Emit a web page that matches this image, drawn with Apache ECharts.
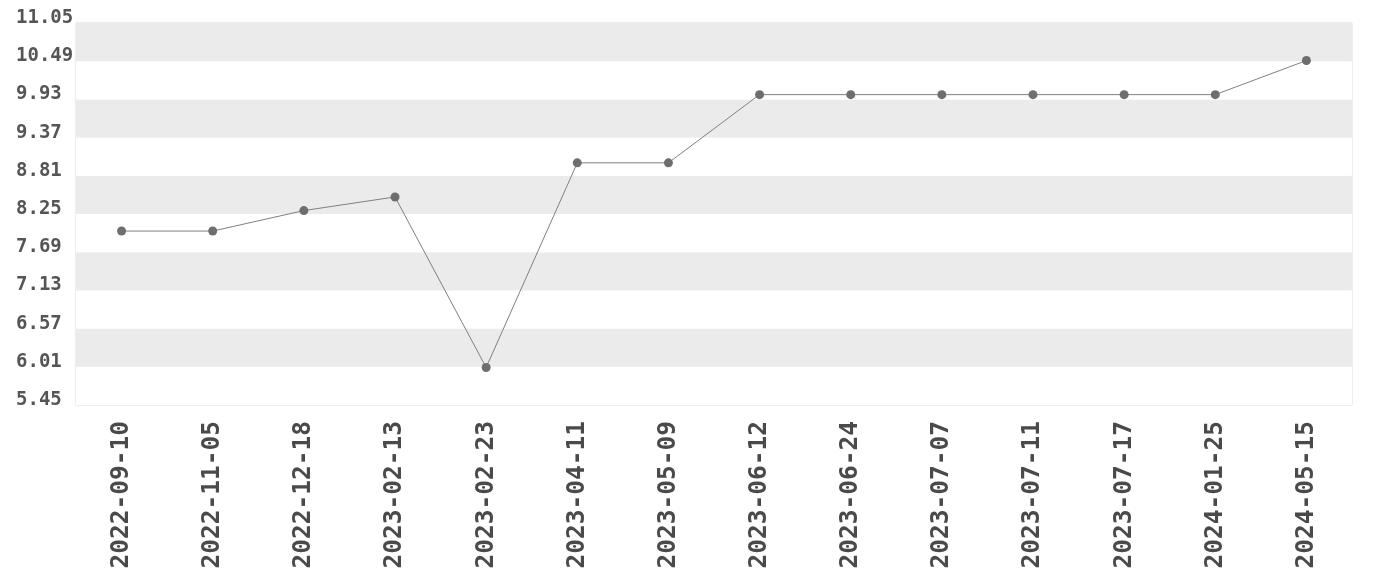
<!DOCTYPE html>
<html>
<head>
<meta charset="utf-8">
<script src="https://cdn.jsdelivr.net/npm/echarts@6/dist/echarts.min.js"></script>
<style>html,body{margin:0;padding:0;background:#fff}#c{width:1380px;height:580px}</style>
</head>
<body>
<div id="c"></div>
<script>
const categories = ['2022-09-10','2022-11-05','2022-12-18','2023-02-13','2023-02-23','2023-04-11','2023-05-09','2023-06-12','2023-06-24','2023-07-07','2023-07-11','2023-07-17','2024-01-25','2024-05-15'];
const values = [8.0, 8.0, 8.3, 8.5, 6.0, 9.0, 9.0, 10.0, 10.0, 10.0, 10.0, 10.0, 10.0, 10.5];
const yMin = 5.45, yMax = 11.05, yStep = 0.56;
const font = '"DejaVu Sans Mono", monospace';
const chart = echarts.init(document.getElementById('c'), null, {renderer: 'canvas'});
chart.setOption({
  animation: false,
  grid: {left: 76, right: 28, top: 23, bottom: 175, show: true, borderColor: '#ddd', borderWidth: 1, containLabel: false},
  xAxis: {
    type: 'category', data: categories, boundaryGap: true,
    axisLine: {show: false}, axisTick: {show: false},
    axisLabel: {rotate: 90, interval: 0, fontFamily: font, fontWeight: 'bold', fontSize: 24.5, color: '#4a4a4a', margin: 16}
  },
  yAxis: {
    type: 'value', min: yMin, max: yMax, interval: yStep,
    axisLine: {show: false}, axisTick: {show: false}, splitLine: {show: false},
    splitArea: {show: true, areaStyle: {color: ['#ffffff', '#ebebeb']}},
    axisLabel: {fontFamily: font, fontWeight: 'bold', fontSize: 19, color: '#555', align: 'left', margin: 60,
      verticalAlign: 'bottom', lineHeight: 10,
      formatter: v => v.toFixed(2)}
  },
  series: [{
    type: 'line', data: values, symbol: 'circle', symbolSize: 9,
    itemStyle: {color: '#6e6e6e'},
    lineStyle: {color: '#808080', width: 1}
  }]
});
</script>
</body>
</html>
